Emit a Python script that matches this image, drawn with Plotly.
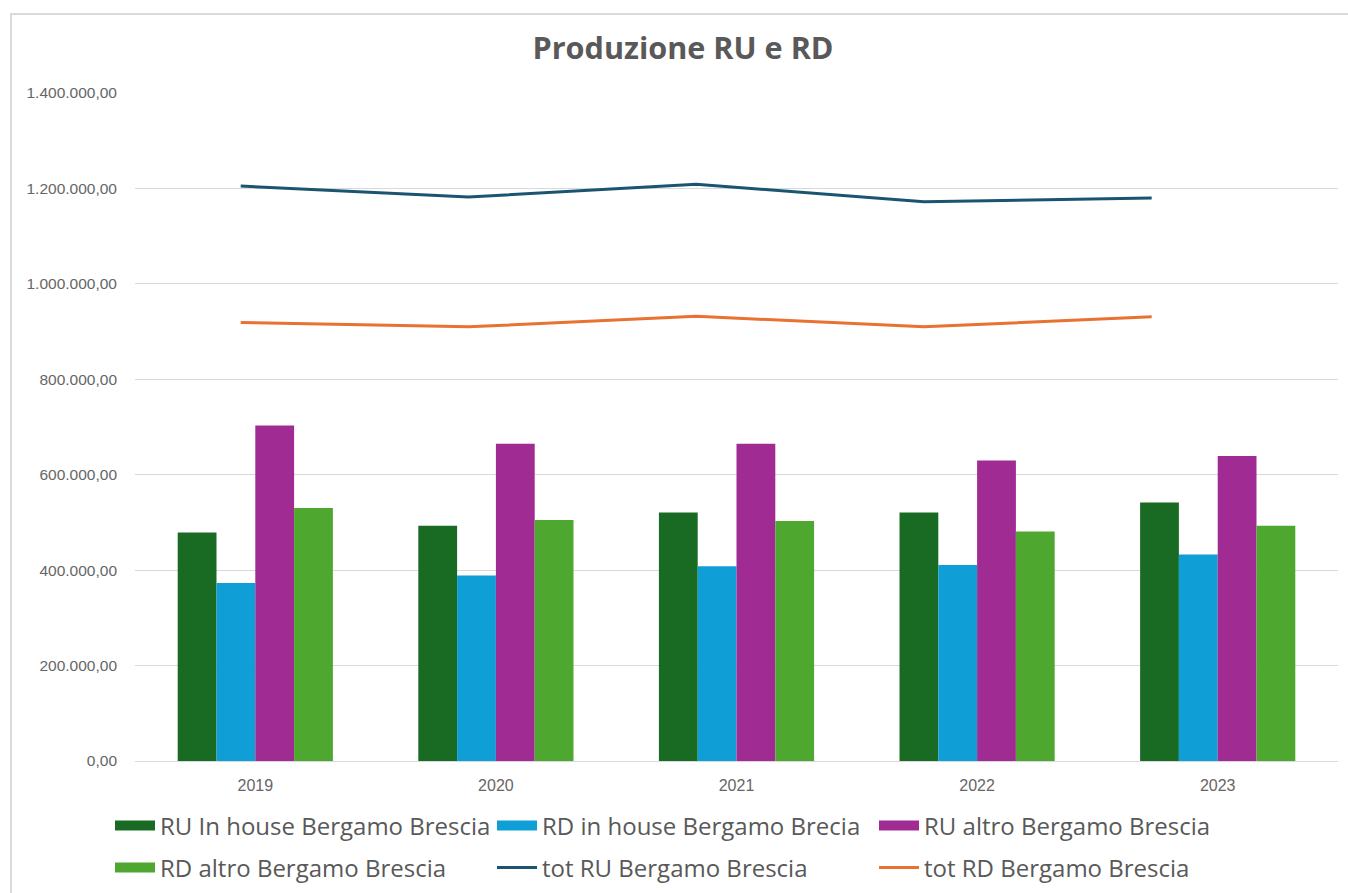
import plotly.graph_objects as go

# Anni e serie (tonnellate)
anni = ["2019", "2020", "2021", "2022", "2023"]
ru_in_house = [479000, 493000, 521000, 521000, 542000]
rd_in_house = [373000, 389000, 408000, 411000, 433000]
ru_altro = [703000, 665000, 665000, 630000, 639000]
rd_altro = [530000, 505000, 503000, 481000, 493000]
tot_ru = [1205000, 1182000, 1209000, 1172000, 1180000]
tot_rd = [919000, 910000, 932000, 910000, 931000]

bar_series = [
    ("RU In house Bergamo Brescia", ru_in_house, "#196B24", "legend"),
    ("RD in house Bergamo Brecia", rd_in_house, "#0F9ED5", "legend"),
    ("RU altro Bergamo Brescia", ru_altro, "#A02B93", "legend"),
    ("RD altro Bergamo Brescia", rd_altro, "#4EA72E", "legend2"),
]
line_series = [
    ("tot RU Bergamo Brescia", tot_ru, "#1B5470", "legend2"),
    ("tot RD Bergamo Brescia", tot_rd, "#E97132", "legend2"),
]

W, H = 1348, 893
L, R, T, B = 135, 10, 93, 132
plot_w = W - L - R
plot_h = H - T - B
bottom_px = H - B


def py(pix):
    """posizione verticale in frazione dell'area del grafico"""
    return (bottom_px - pix) / plot_h


def px(pix):
    return (pix - L) / plot_w


fig = go.Figure()
for name, vals, col, leg in bar_series:
    fig.add_trace(go.Bar(x=anni, y=vals, name=name, legendgroup=name, showlegend=False,
                         marker=dict(color=col, line=dict(width=0))))
    # voce di legenda a rettangolo largo
    fig.add_trace(go.Scatter(x=[None], y=[None], name=name, legendgroup=name, legend=leg,
                             mode="lines", line=dict(color=col, width=15)))

# le linee dei totali usano un asse x secondario (0..4) sovrapposto
idx = list(range(len(anni)))
for name, vals, col, leg in line_series:
    fig.add_trace(go.Scatter(x=idx, y=vals, name=name, mode="lines", legend=leg,
                             line=dict(color=col, width=3), xaxis="x2"))

grey = "#595959"
font_main = "Liberation Sans, Arial, sans-serif"
leg_font = dict(family="Open Sans, sans-serif", size=24, color=grey)

fig.update_layout(
    width=W, height=H,
    margin=dict(l=L, r=R, t=T, b=B, pad=0, autoexpand=False),
    paper_bgcolor="white", plot_bgcolor="white",
    separators=",.",
    barmode="group", bargap=0.355, bargroupgap=0,
    title=dict(text="<b>Produzione RU e RD</b>", x=683 / W, xanchor="center",
               y=1 - 48 / H, yanchor="middle",
               font=dict(family="Open Sans, sans-serif", size=30.6, color=grey)),
    font=dict(family=font_main, color=grey),
    xaxis=dict(type="category", showgrid=False, showline=False, ticks="",
               tickfont=dict(size=16, color="#666666"), ticklabelstandoff=13),
    xaxis2=dict(overlaying="x", range=[-0.4641, 4.818], visible=False),
    yaxis=dict(range=[0, 1400000], dtick=200000, tickformat=",.2f",
               showgrid=True, gridcolor="#d9d9d9", gridwidth=1,
               zeroline=True, zerolinecolor="#d9d9d9", zerolinewidth=1,
               showline=False, ticks="", ticklabelstandoff=17,
               tickfont=dict(size=15.5, color="#666666")),
    legend=dict(orientation="h", x=px(110), xanchor="left", y=py(826), yanchor="middle",
                entrywidth=327, entrywidthmode="pixels", font=leg_font,
                itemwidth=40, bgcolor="rgba(0,0,0,0)"),
    legend2=dict(orientation="h", x=px(110), xanchor="left", y=py(868), yanchor="middle",
                 entrywidth=327, entrywidthmode="pixels", font=leg_font,
                 itemwidth=40, bgcolor="rgba(0,0,0,0)"),
    showlegend=True,
)

# cornice grigia del grafico
fig.add_shape(type="rect", xref="paper", yref="paper",
              x0=px(11), x1=1.2, y0=-0.5, y1=py(14),
              line=dict(color="#d9d9d9", width=2), fillcolor="rgba(0,0,0,0)", layer="below")

fig.write_html("out.html")
